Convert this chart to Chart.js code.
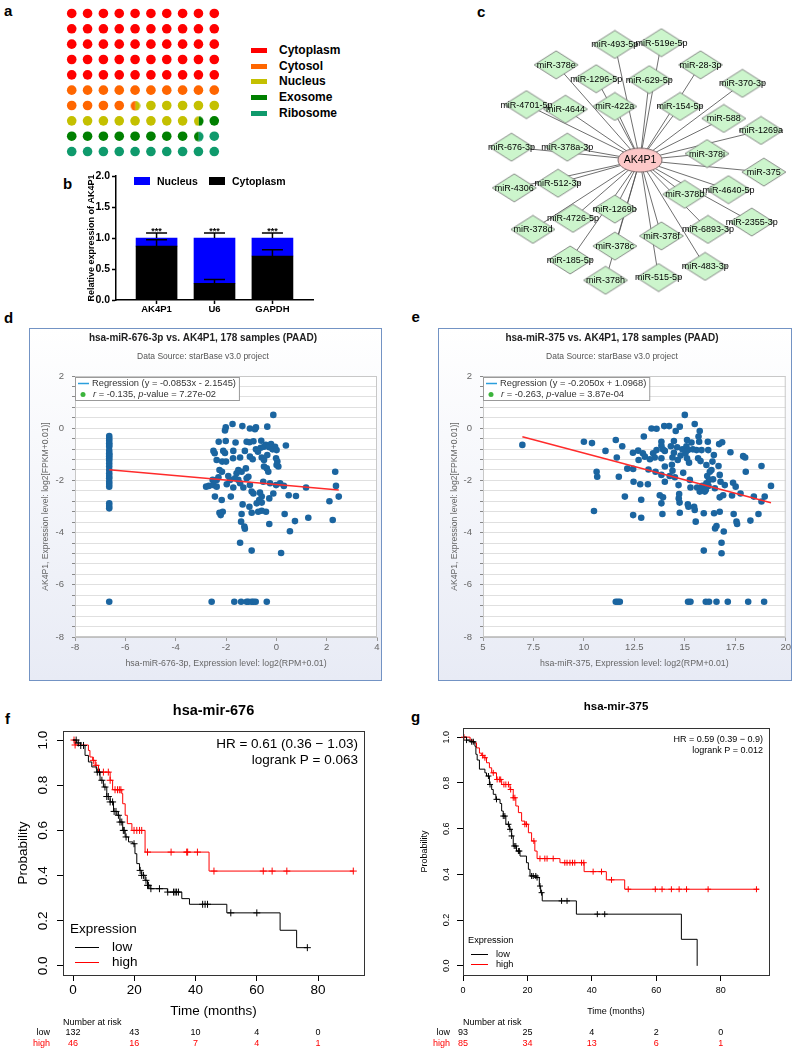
<!DOCTYPE html>
<html>
<head>
<meta charset="utf-8">
<title>AK4P1 figure</title>
<script src="https://cdn.jsdelivr.net/npm/chart.js@4.4.1/dist/chart.umd.min.js"></script>
<style>
  html, body { margin: 0; padding: 0; }
  body { position: relative; width: 800px; height: 1051px; overflow: hidden; background: #fff;
         font-family: "Liberation Sans", Arial, sans-serif; }
  canvas { position: absolute; }
  .txt { position: absolute; white-space: nowrap; line-height: 1; }
  .panel-box { position: absolute; box-sizing: border-box; border: 1.5px solid #7393c4;
               background: linear-gradient(#ffffff, #e8ebf5); }
</style>
</head>
<body>
<script>
const FONT = '"Liberation Sans", Arial, sans-serif';
Chart.defaults.font.family = FONT;
Chart.defaults.color = '#000';
Chart.defaults.animation = false;
Chart.defaults.responsive = false;
Chart.defaults.events = [];
Chart.defaults.plugins.legend.display = false;
Chart.defaults.plugins.tooltip.enabled = false;

// ---------------- data ----------------

// a: subcellular localisation, percent of 100 dots
const locNames = ['Cytoplasm', 'Cytosol', 'Nucleus', 'Exosome', 'Ribosome'];
const locValues = [50, 14.5, 14, 10, 11.5];
const locColors = ['#ff0000', '#ff6600', '#c4c000', '#008000', '#0f9a6c'];

// b: nuclear / cytoplasmic fractionation
const fracGenes = ['AK4P1', 'U6', 'GAPDH'];
const fracCyto = [0.87, 0.27, 0.71];
const fracNuc = [0.13, 0.73, 0.29];
const fracCytoErr = [0.10, 0.06, 0.10];
const fracTotalErr = [0.08, 0.08, 0.08];
const fracLegend = ['Nucleus', 'Cytoplasm'];
const fracColors = { Nucleus: '#0000ff', Cytoplasm: '#000000' };

// c: ceRNA network (layout units, hub at origin)
const hubName = 'AK4P1';
const netNames = ['miR-493-5p', 'miR-519e-5p', 'miR-378e', 'miR-28-3p', 'miR-1296-5p', 'miR-629-5p',
  'miR-370-3p', 'miR-4701-5p', 'miR-4644', 'miR-422a', 'miR-154-5p', 'miR-588', 'miR-1269a',
  'miR-676-3p', 'miR-378a-3p', 'miR-378i', 'miR-375', 'miR-4306', 'miR-512-3p', 'miR-378b',
  'miR-4640-5p', 'miR-1269b', 'miR-4726-5p', 'miR-378d', 'miR-2355-3p', 'miR-6893-3p', 'miR-378f',
  'miR-378c', 'miR-185-5p', 'miR-483-3p', 'miR-515-5p', 'miR-378h'];
const netX = [-27, 23, -90, 65, -47, 10, 110, -122, -80, -27, 43, 90, 130, -138, -78, 72, 133,
  -135, -88, 48, 95, -27, -72, -115, 120, 73, 23, -27, -75, 70, 20, -37];
const netY = [125, 127, 103, 103, 88, 87, 83, 60, 55, 58, 58, 45, 32, 14, 14, 7, -13, -30, -25,
  -37, -32, -53, -63, -75, -67, -75, -82, -93, -108, -115, -127, -130];

// d: hsa-miR-676-3p vs AK4P1 (x: log2 RPM, y: log2 FPKM)
const d676Points = [
  [-6.64,-0.30],[-6.64,-0.39],[-6.64,-0.48],[-6.64,-0.58],[-6.64,-0.64],[-6.64,-0.71],[-6.64,-0.86],
  [-6.64,-0.96],[-6.64,-1.02],[-6.64,-1.07],[-6.64,-1.15],[-6.64,-1.24],[-6.64,-1.35],[-6.64,-1.47],
  [-6.64,-1.60],[-6.64,-1.73],[-6.64,-1.83],[-6.64,-1.92],[-6.64,-2.05],[-6.64,-2.14],[-6.64,-2.24],
  [-6.64,-2.88],[-6.64,-2.98],[-6.64,-3.07],[-6.64,-6.65],
  [-0.12,0.51],[-1.74,0.16],[-1.35,0.08],[-2.01,0.03],[-2.04,-0.09],[-1.05,-0.01],[-0.85,-0.04],
  [-0.81,0.03],[-0.36,0.06],[-2.29,-0.52],[-2.01,-0.49],[-1.62,-0.55],[-1.18,-0.52],[-1.07,-0.54],
  [-0.91,-0.50],[-0.60,-0.48],[-0.21,-0.61],[-0.42,-0.64],[-0.05,-0.71],[0.38,-0.66],[-2.50,-0.87],
  [-2.45,-0.96],[-2.11,-0.87],[-2.04,-0.95],[-1.71,-0.87],[-1.25,-0.87],[-0.81,-0.81],[-0.73,-0.90],
  [-0.62,-0.75],[-0.49,-0.71],[-0.28,-0.73],[-0.15,-0.81],[0.01,-0.84],[-2.37,-1.22],[-2.15,-1.28],
  [-2.00,-1.28],[-1.72,-1.15],[-1.44,-1.12],[-1.05,-1.09],[-0.94,-1.19],[-0.58,-1.12],[-0.49,-1.22],
  [-0.36,-1.03],[-0.01,-1.15],[0.04,-1.28],[0.08,-1.47],[0.01,-1.41],[-2.26,-1.60],[-2.16,-1.67],
  [-1.51,-1.60],[-1.38,-1.67],[-1.21,-1.54],[-0.49,-1.47],[-0.38,-1.54],[-0.32,-1.67],[-1.58,-1.73],
  [-1.91,-1.83],[-1.51,-1.98],[-1.18,-1.92],[-1.11,-1.86],[-2.53,-1.98],[-2.37,-1.98],[-2.30,-1.88],
  [-1.97,-2.15],[-1.84,-1.98],[-1.64,-1.92],[-1.44,-2.11],[-1.05,-2.18],[-0.52,-2.05],[-0.25,-2.11],
  [-0.01,-2.18],[0.15,-2.11],[0.30,-2.21],[-2.79,-2.24],[-2.68,-2.21],[-2.50,-2.18],[-2.37,-2.24],
  [-1.71,-2.27],[-1.31,-2.27],[-0.98,-2.43],[-0.91,-2.50],[-0.65,-2.47],[-0.58,-2.62],[-0.12,-2.50],
  [-0.28,-2.69],[-0.68,-2.75],[-0.78,-2.88],[-0.58,-2.85],[0.49,-2.57],[0.78,-2.60],[1.18,-2.27],
  [-2.44,-2.62],[-2.17,-2.75],[-1.81,-2.62],[-1.34,-2.92],[-1.07,-3.01],[-0.98,-3.24],[-2.26,-3.24],
  [-2.13,-3.20],[-2.21,-3.33],[-1.38,-3.29],[-0.72,-3.20],[-0.58,-3.16],[-0.41,-3.20],[0.33,-3.29],
  [-0.28,-3.67],[0.74,-3.56],[1.27,-3.43],[0.54,-3.95],[2.11,-2.80],[2.48,-2.62],[2.37,-2.21],
  [2.34,-1.67],[2.24,-3.52],[-1.40,-3.58],[-1.27,-3.77],[-1.25,-3.85],[-1.44,-4.39],[-0.98,-4.69],
  [0.19,-4.78],
  [-2.57,-6.65],[-1.67,-6.65],[-1.40,-6.65],[-1.18,-6.65],[-1.11,-6.65],[-0.98,-6.65],[-0.91,-6.65],
  [-0.82,-6.65],[-0.38,-6.65]
];
const d676Fit = { slope: -0.0853, intercept: -2.1545 };
const d676Stats = { r: '-0.135', p: '7.27e-02' };

// e: hsa-miR-375 vs AK4P1
const e375Points = [
  [6.95,-0.64],[10.0,-0.52],[10.40,-0.57],[10.50,-3.17],[10.63,-1.67],[10.66,-1.86],[11.07,-0.87],
  [11.58,-0.45],[11.63,-1.12],[11.73,-1.86],[11.90,-0.69],[12.03,-2.62],[12.15,-1.55],[12.43,-0.94],
  [12.44,-1.56],[12.46,-2.05],[12.44,-3.33],[12.69,-0.86],[12.71,-1.22],[12.79,-2.15],[12.84,-2.74],
  [12.84,-3.43],[12.92,-0.96],[12.97,-0.32],[13.02,-1.09],[13.17,-2.15],[13.20,-1.58],[13.27,-1.19],
  [13.35,-0.01],[13.43,-0.96],[13.51,-1.12],[13.55,-1.67],[13.60,-0.02],[13.60,-0.84],[13.76,-2.57],
  [13.84,-0.52],[13.84,-0.67],[13.84,-1.15],[13.84,-1.79],[13.84,-2.88],[13.89,-3.29],[13.91,-0.81],
  [13.92,-2.65],[13.98,0.08],[14.01,-1.47],[14.01,-0.87],[14.01,-2.05],[14.22,0.08],[14.25,-1.83],
  [14.31,-0.69],[14.36,-1.40],[14.39,-1.63],[14.39,-1.12],[14.46,-0.49],[14.46,-0.94],[14.51,-1.88],
  [14.55,-0.11],[14.62,-0.73],[14.65,-1.22],[14.69,-2.18],[14.70,-2.69],[14.72,-2.52],[14.74,-2.85],
  [14.75,0.06],[14.75,-3.24],[14.79,-1.05],[14.88,-0.81],[14.92,-1.71],[15.00,0.51],[15.03,-0.96],
  [15.08,-0.69],[15.11,-0.45],[15.11,-1.15],[15.15,-2.92],[15.16,-0.84],[15.18,-3.01],[15.21,-1.32],
  [15.25,-1.98],[15.28,-2.27],[15.33,-0.55],[15.40,-0.81],[15.46,-3.01],[15.49,-3.13],[15.49,0.16],
  [15.54,-3.58],[15.58,-0.84],[15.61,-2.27],[15.66,-1.15],[15.68,-0.32],[15.71,-0.52],[15.74,-0.11],
  [15.74,-2.43],[15.78,-1.26],[15.83,-0.84],[15.87,-2.21],[15.91,-2.37],[15.94,-3.26],[15.94,-4.69],
  [15.99,-2.43],[16.04,-2.37],[16.07,-1.41],[16.07,-2.11],[16.11,-1.83],[16.14,-0.52],[16.16,-0.84],
  [16.17,-2.21],[16.20,-1.98],[16.24,-1.67],[16.32,-1.60],[16.37,-1.28],[16.40,-1.96],[16.44,-1.03],
  [16.45,-3.26],[16.49,-2.30],[16.50,-3.84],[16.57,-3.75],[16.67,-1.45],[16.70,-0.61],[16.73,-1.79],
  [16.73,-3.20],[16.73,-2.65],[16.77,-2.05],[16.82,-4.39],[16.82,-4.79],[16.85,-0.54],[16.90,-2.57],
  [16.93,-3.96],[16.98,-2.18],[17.26,-0.92],[17.34,-2.58],[17.39,-2.09],[17.42,-3.29],[17.52,-2.24],
  [17.56,-3.58],[17.59,-3.67],[17.76,-2.50],[17.89,-1.07],[17.99,-1.12],[18.02,-1.67],[18.25,-3.54],
  [18.42,-2.62],[18.65,-3.29],[18.80,-1.45],[18.80,-2.81],[18.96,-2.62],[19.27,-2.21],
  [11.58,-6.65],[11.68,-6.65],[11.78,-6.65],[15.16,-6.65],[15.28,-6.65],[16.04,-6.65],[16.20,-6.65],
  [16.57,-6.65],[17.13,-6.65],[18.14,-6.65],[18.93,-6.65]
];
const e375Fit = { slope: -0.2050, intercept: 1.0968 };
const e375Stats = { r: '-0.263', p: '3.87e-04' };

// f, g: Kaplan-Meier (months, survival probability), censor times, number at risk
const riskTimes = [0, 20, 40, 60, 80];

const f676LowT = [0, 1.2, 2.5, 3.9, 5.0, 6.1, 7.7, 8.8, 9.9, 11.0, 12.1, 13.2, 14.3, 15.3, 16.2, 17.0,
  18.1, 19.5, 20.2, 20.8, 21.7, 22.4, 23.5, 24.3, 25.1, 30.8, 35.5, 38.0, 50.2, 67.6, 73.0, 76.5];
const f676LowS = [1, 0.987, 0.976, 0.932, 0.903, 0.881, 0.858, 0.822, 0.792, 0.750, 0.726, 0.684, 0.667,
  0.637, 0.600, 0.571, 0.549, 0.541, 0.497, 0.453, 0.423, 0.401, 0.379, 0.357, 0.342, 0.327, 0.298,
  0.273, 0.235, 0.158, 0.081, 0.081];
const f676LowCens = [1.0, 1.7, 2.5, 3.4, 7.9, 8.6, 9.4, 10.4, 11.0, 11.5, 12.1, 12.9, 13.4, 14.0, 14.8,
  15.3, 15.9, 16.4, 16.7, 17.3, 19.9, 21.9, 22.4, 23.0, 23.8, 24.3, 24.6, 25.4, 28.2, 30.9, 32.8, 33.3,
  33.8, 34.4, 42.3, 43.1, 43.9, 51.5, 60.0, 76.5];
const f676HighT = [0, 0.65, 5.0, 5.5, 6.4, 7.2, 8.3, 12.1, 12.9, 15.9, 16.2, 17.0, 17.7, 19.2, 23.5, 44.4, 91.5];
const f676HighS = [1, 0.978, 0.954, 0.925, 0.910, 0.888, 0.858, 0.822, 0.780, 0.763, 0.718, 0.667, 0.630,
  0.600, 0.504, 0.420, 0.420];
const f676HighCens = [0.3, 0.65, 6.6, 7.5, 9.9, 11.5, 12.1, 13.7, 14.5, 15.1, 15.6, 19.9, 20.8, 21.7, 22.4,
  24.3, 32.0, 37.1, 37.4, 40.6, 46.0, 62.1, 65.0, 69.8, 91.5];
const f676RiskLow = [132, 43, 10, 4, 0];
const f676RiskHigh = [46, 16, 7, 4, 1];

const g375LowT = [0, 1.1, 2.2, 3.7, 4.0, 4.4, 5.1, 6.8, 7.3, 8.2, 8.9, 9.4, 10.2, 11.5, 12.0, 12.5, 13.3,
  14.4, 15.1, 15.6, 16.6, 17.7, 19.7, 20.3, 20.8, 22.8, 23.7, 24.1, 24.6, 35.2, 67.8, 72.7];
const g375LowS = [1, 0.987, 0.980, 0.960, 0.925, 0.900, 0.860, 0.844, 0.830, 0.793, 0.771, 0.750, 0.728,
  0.710, 0.677, 0.655, 0.619, 0.597, 0.568, 0.524, 0.502, 0.480, 0.451, 0.422, 0.393, 0.386, 0.349,
  0.320, 0.284, 0.226, 0.116, 0];
const g375LowCens = [1.1, 2.7, 3.2, 7.9, 8.4, 10.4, 12.5, 13.0, 14.1, 14.6, 15.1, 15.9, 16.4, 17.2, 17.5,
  21.3, 21.8, 22.6, 23.0, 23.9, 24.4, 30.6, 32.3, 41.7, 44.0];
const g375HighT = [0, 2.2, 3.2, 4.2, 5.1, 5.8, 6.5, 7.3, 8.2, 8.9, 10.4, 12.0, 14.6, 15.6, 16.4, 17.2, 18.2,
  19.2, 20.3, 21.3, 22.3, 23.0, 30.1, 37.6, 44.5, 50.2, 91.9];
const g375HighS = [1, 0.987, 0.975, 0.953, 0.930, 0.920, 0.910, 0.888, 0.866, 0.844, 0.815, 0.793, 0.771,
  0.735, 0.699, 0.670, 0.633, 0.619, 0.582, 0.546, 0.502, 0.469, 0.451, 0.412, 0.376, 0.335, 0.335];
const g375HighCens = [0.3, 6.1, 6.8, 9.4, 10.6, 11.3, 11.7, 12.7, 13.3, 14.1, 14.8, 15.6, 16.1, 19.2, 19.7,
  22.0, 23.9, 25.4, 26.1, 28.0, 31.6, 32.3, 33.2, 34.0, 34.7, 36.8, 37.5, 40.4, 43.0, 46.1, 51.3, 59.7,
  61.8, 64.7, 67.1, 69.4, 76.1, 91.1];
const g375RiskLow = [93, 25, 4, 2, 0];
const g375RiskHigh = [85, 34, 13, 6, 1];

// ---------------- helpers ----------------

function makeCanvas(left, top, w, h) {
  const c = document.createElement('canvas');
  c.width = w; c.height = h;
  c.style.left = left + 'px';
  c.style.top = top + 'px';
  document.body.appendChild(c);
  return c;
}

// text whose capitals are centred on cy
function txt(text, x, cy, size, opts = {}) {
  const d = document.createElement('div');
  d.className = 'txt';
  d.textContent = text;
  d.style.fontSize = size + 'px';
  d.style.top = (cy - size * 0.4885) + 'px';
  d.style.left = x + 'px';
  if (opts.bold) d.style.fontWeight = 'bold';
  if (opts.color) d.style.color = opts.color;
  document.body.appendChild(d);
  return d;
}

function swatch(x, y, w, h, color) {
  const d = document.createElement('div');
  d.style.cssText = `position:absolute;left:${x}px;top:${y}px;width:${w}px;height:${h}px;background:${color}`;
  document.body.appendChild(d);
}

function splitDot(left, right, r) {
  const c = document.createElement('canvas');
  c.width = c.height = 2 * r + 2;
  const g = c.getContext('2d');
  const m = r + 1;
  g.fillStyle = left;
  g.beginPath(); g.moveTo(m, m); g.arc(m, m, r, Math.PI / 2, Math.PI * 1.5); g.closePath(); g.fill();
  g.fillStyle = right;
  g.beginPath(); g.moveTo(m, m); g.arc(m, m, r, -Math.PI / 2, Math.PI / 2); g.closePath(); g.fill();
  return c;
}

function diamondImg(w, h, fill, stroke) {
  const c = document.createElement('canvas');
  c.width = w + 2; c.height = h + 2;
  const g = c.getContext('2d');
  const cx = c.width / 2, cy = c.height / 2;
  g.beginPath();
  g.moveTo(cx, 1); g.lineTo(c.width - 1, cy); g.lineTo(cx, c.height - 1); g.lineTo(1, cy);
  g.closePath();
  g.fillStyle = fill; g.fill();
  g.strokeStyle = stroke; g.lineWidth = 0.8; g.stroke();
  return c;
}

function ellipseImg(w, h, fill, stroke) {
  const c = document.createElement('canvas');
  c.width = w + 2; c.height = h + 2;
  const g = c.getContext('2d');
  g.beginPath();
  g.ellipse(c.width / 2, c.height / 2, w / 2, h / 2, 0, 0, Math.PI * 2);
  g.fillStyle = fill; g.fill();
  g.strokeStyle = stroke; g.lineWidth = 1; g.stroke();
  return c;
}

function stepAt(ts, ss, t) {
  let s = ss[0];
  for (let i = 0; i < ts.length; i++) if (ts[i] <= t) s = ss[i];
  return s;
}

// ---------------- panel letters ----------------
txt('a', 4, 10, 15, { bold: true });
txt('b', 63, 183, 15, { bold: true });
txt('c', 477, 11.5, 15, { bold: true });
txt('d', 4, 317, 15, { bold: true });
txt('e', 411.5, 316, 15, { bold: true });
txt('f', 5, 718.5, 15, { bold: true });
txt('g', 411, 716.3, 15, { bold: true });

// ---------------- a: dot matrix ----------------
const locCum = [0];
locValues.forEach(v => locCum.push(locCum[locCum.length - 1] + v));
const fullDots = locNames.map(() => []);
const splitDots = [];
const splitStyles = [];
for (let k = 0; k < 100; k++) {
  const pt = { x: k % 10, y: Math.floor(k / 10) };
  const parts = [];
  locValues.forEach((v, c) => {
    const ov = Math.min(k + 1, locCum[c + 1]) - Math.max(k, locCum[c]);
    if (ov > 1e-9) parts.push(c);
  });
  if (parts.length === 1) fullDots[parts[0]].push(pt);
  else {
    splitDots.push(pt);
    splitStyles.push(splitDot(locColors[parts[0]], locColors[parts[1]], 4.8));
  }
}

new Chart(makeCanvas(58, 0, 170, 165), {
  type: 'scatter',
  data: {
    datasets: [
      ...locNames.map((n, i) => ({
        label: n, data: fullDots[i], backgroundColor: locColors[i],
        pointRadius: 4.8, borderWidth: 0, clip: false
      })),
      { label: 'split', data: splitDots, pointStyle: splitStyles, pointRadius: 4.8, clip: false }
    ]
  },
  options: {
    scales: {
      x: { display: false, min: -0.5, max: 9.5 },
      y: { display: false, min: -0.5, max: 9.5, reverse: true }
    }
  }
});

const locLegendY = [50, 66, 81, 97, 113];
locNames.forEach((n, i) => {
  swatch(251, locLegendY[i] - 2.5, 16, 5, locColors[i]);
  txt(n, 279, locLegendY[i], 12, { bold: true });
});

// ---------------- b: fractionation bars ----------------
new Chart(makeCanvas(60, 165, 260, 155), {
  type: 'bar',
  data: {
    datasets: [
      { label: 'Cytoplasm', data: fracGenes.map((g, i) => ({ x: i, y: fracCyto[i] })),
        backgroundColor: fracColors.Cytoplasm, barThickness: 41, stack: 's' },
      { label: 'Nucleus', data: fracGenes.map((g, i) => ({ x: i, y: fracNuc[i] })),
        backgroundColor: fracColors.Nucleus, barThickness: 41, stack: 's' }
    ]
  },
  options: {
    layout: { padding: { top: 11, right: 7, left: 0, bottom: 0 } },
    scales: {
      x: {
        type: 'linear', stacked: true, min: -0.7, max: 2.7, offset: false,
        afterBuildTicks: s => { s.ticks = fracGenes.map((g, i) => ({ value: i })); },
        ticks: { callback: v => fracGenes[v], font: { weight: 'bold', size: 9.5 }, color: '#000', padding: 0 },
        grid: { display: true, offset: false, drawOnChartArea: false, tickLength: 4, tickColor: '#000', tickWidth: 1.5 },
        border: { color: '#000', width: 1.5 },
        afterFit: s => { s.height = 20; }
      },
      y: {
        stacked: true, min: 0, max: 2,
        ticks: { stepSize: 0.5, callback: v => v.toFixed(1), font: { weight: 'bold', size: 10.5 }, color: '#000', padding: 2 },
        grid: { drawOnChartArea: false, tickLength: 4, tickColor: '#000', tickWidth: 1.5 },
        border: { color: '#000', width: 1.5 },
        title: { display: true, text: 'Relative expression of AK4P1', font: { weight: 'bold', size: 9 },
                 color: '#000', padding: { top: 26, bottom: 0 } },
        afterFit: s => { s.width = 56; }
      }
    }
  },
  plugins: [{
    id: 'errorBars',
    afterDatasetsDraw(chart) {
      const { ctx, scales: { x, y } } = chart;
      ctx.save();
      ctx.strokeStyle = '#000';
      ctx.lineWidth = 1.5;
      const bar = (px, from, to) => {
        const y0 = y.getPixelForValue(from), y1 = y.getPixelForValue(to);
        ctx.beginPath();
        ctx.moveTo(px, y0); ctx.lineTo(px, y1);
        ctx.moveTo(px - 10.5, y1); ctx.lineTo(px + 10.5, y1);
        ctx.stroke();
      };
      ctx.font = `bold 9px ${FONT}`;
      ctx.textAlign = 'center';
      ctx.fillStyle = '#000';
      fracGenes.forEach((g, i) => {
        const px = x.getPixelForValue(i);
        const total = fracCyto[i] + fracNuc[i];
        bar(px, fracCyto[i], fracCyto[i] + fracCytoErr[i]);
        bar(px, total, total + fracTotalErr[i]);
        ctx.fillText('***', px, y.getPixelForValue(total + fracTotalErr[i]) + 1);
      });
      ctx.restore();
    }
  }]
});

let fracLegX = 134;
fracLegend.forEach((n, i) => {
  swatch(fracLegX, 177, 16, 8, fracColors[n]);
  txt(n, fracLegX + 23, 181, 10.5, { bold: true });
  fracLegX += 75;
});

// ---------------- c: network ----------------
const diamond = diamondImg(44, 28, '#ccf5cc', '#6e6e6e');
const hubShape = ellipseImg(44, 24, '#fcc8c8', '#7a6a6a');

new Chart(makeCanvas(480, 15, 320, 292), {
  type: 'scatter',
  data: {
    datasets: [
      { label: hubName, data: [{ x: 0, y: 0 }], pointStyle: hubShape, pointRadius: 10, order: 1, clip: false },
      { label: 'miRNA', data: netNames.map((n, i) => ({ x: netX[i], y: netY[i] })),
        pointStyle: diamond, pointRadius: 10, order: 2, clip: false },
      ...netNames.map((n, i) => ({
        label: 'edge ' + n, data: [{ x: 0, y: 0 }, { x: netX[i], y: netY[i] }],
        showLine: true, pointRadius: 0, borderColor: '#4a4a4a', borderWidth: 0.8, order: 3, clip: false
      }))
    ]
  },
  options: {
    scales: {
      x: { display: false, min: -160, max: 160 },
      y: { display: false, min: -147, max: 145 }
    }
  },
  plugins: [{
    id: 'nodeLabels',
    afterDatasetsDraw(chart) {
      const { ctx, scales: { x, y } } = chart;
      ctx.save();
      ctx.fillStyle = '#000';
      ctx.textAlign = 'center';
      ctx.textBaseline = 'middle';
      ctx.font = `9px ${FONT}`;
      netNames.forEach((n, i) => ctx.fillText(n, x.getPixelForValue(netX[i]), y.getPixelForValue(netY[i]) + 0.5));
      ctx.font = `10.5px ${FONT}`;
      ctx.fillText(hubName, x.getPixelForValue(0), y.getPixelForValue(0) + 0.5);
      ctx.restore();
    }
  }]
});

// ---------------- d, e: correlation scatter ----------------
function scatterPanel(cfg) {
  const box = document.createElement('div');
  box.className = 'panel-box';
  box.style.cssText = `left:${cfg.left}px;top:328px;width:${cfg.width}px;height:353px`;
  document.body.appendChild(box);

  const xs = cfg.points.map(p => p[0]);
  const x0 = Math.min(...xs), x1 = Math.max(...xs);
  const fit = v => cfg.fit.slope * v + cfg.fit.intercept;
  const sign = cfg.fit.intercept < 0 ? '-' : '+';
  const regText = `Regression (y = ${cfg.fit.slope.toFixed(4)}x ${sign} ${Math.abs(cfg.fit.intercept).toFixed(4)})`;

  new Chart(makeCanvas(cfg.left, 328, cfg.width, 353), {
    type: 'scatter',
    data: {
      datasets: [
        { label: 'Regression', data: [{ x: x0, y: fit(x0) }, { x: x1, y: fit(x1) }], showLine: true,
          borderColor: '#ff2b2b', borderWidth: 1.5, pointRadius: 0, order: 1 },
        { label: 'samples', data: cfg.points.map(p => ({ x: p[0], y: p[1] })),
          backgroundColor: '#1b65a0', borderWidth: 0, pointRadius: 3.3, order: 2 }
      ]
    },
    options: {
      layout: { padding: { top: 0, left: 0, bottom: 0, right: cfg.padRight } },
      plugins: {
        title: { display: true, text: cfg.title, color: '#222', font: { size: 10, weight: 'bold' },
                 padding: { top: 4.5, bottom: 2 } },
        subtitle: { display: true, text: 'Data Source: starBase v3.0 project', color: '#555',
                    font: { size: 8.5 }, padding: { top: 5, bottom: 14.3 } }
      },
      scales: {
        x: {
          type: 'linear', min: cfg.xMin, max: cfg.xMax,
          ticks: { stepSize: cfg.xStep, color: '#666', font: { size: 9.5 }, padding: 1, maxRotation: 0, autoSkip: false },
          grid: { display: true, drawOnChartArea: false, tickLength: 4, tickColor: '#999' },
          border: { color: '#c0c0c0' },
          title: { display: true, text: cfg.xTitle, color: '#666', font: { size: 8.8 }, padding: { top: 0, bottom: 12.3 } },
          afterFit: s => { s.height = 44; }
        },
        y: {
          min: -8, max: 2,
          ticks: { stepSize: 0.4, autoSkip: false, color: '#666', font: { size: 9.5 }, padding: 8,
                   callback: v => (Math.abs(v % 2) < 1e-6 ? String(Math.round(v)) : '') },
          grid: { color: '#e0e0e0', tickLength: 3, tickColor: '#888' },
          border: { color: '#c0c0c0' },
          title: { display: true, text: 'AK4P1, Expression level: log2[FPKM+0.01)]', color: '#666',
                   font: { size: 8.6 }, padding: { top: 11.5, bottom: 0 } },
          afterFit: s => { s.width = cfg.yAxisW; }
        }
      }
    },
    plugins: [{
      id: 'plotFrame',
      beforeDraw(chart) {
        const { ctx, chartArea: a } = chart;
        ctx.save();
        ctx.fillStyle = '#fff';
        ctx.fillRect(a.left, a.top, a.right - a.left, a.bottom - a.top);
        ctx.restore();
      },
      afterDraw(chart) {
        const { ctx, chartArea: a } = chart;
        ctx.save();
        ctx.strokeStyle = '#c8c8c8';
        ctx.lineWidth = 1;
        ctx.strokeRect(a.left + 0.5, a.top + 0.5, a.right - a.left - 1, a.bottom - a.top - 1);
        // legend box
        const fs = 9.3;
        ctx.font = `${fs}px ${FONT}`;
        const w1 = ctx.measureText(regText).width;
        const bx = a.left, by = a.top + 1, bw = w1 + 20, bh = 23;
        ctx.fillStyle = '#fff';
        ctx.fillRect(bx, by, bw, bh);
        ctx.strokeStyle = '#9a9a9a';
        ctx.strokeRect(bx + 0.5, by + 0.5, bw, bh);
        ctx.strokeStyle = '#2b9fdc';
        ctx.lineWidth = 1.5;
        ctx.beginPath(); ctx.moveTo(bx + 3, by + 6.5); ctx.lineTo(bx + 14, by + 6.5); ctx.stroke();
        ctx.fillStyle = '#333';
        ctx.textBaseline = 'middle';
        ctx.fillText(regText, bx + 17, by + 6.5);
        ctx.fillStyle = '#3cb43c';
        ctx.beginPath(); ctx.arc(bx + 8, by + 17.5, 2.5, 0, Math.PI * 2); ctx.fill();
        ctx.fillStyle = '#333';
        let tx = bx + 18;
        [['r', true], [` = ${cfg.stats.r}, `, false], ['p', true], [`-value = ${cfg.stats.p}`, false]].forEach(([s, it]) => {
          ctx.font = `${it ? 'italic ' : ''}${fs}px ${FONT}`;
          ctx.fillText(s, tx, by + 17.5);
          tx += ctx.measureText(s).width;
        });
        ctx.restore();
      }
    }]
  });
}

scatterPanel({
  left: 29, width: 353, padRight: 5, yAxisW: 46,
  points: d676Points, fit: d676Fit, stats: d676Stats,
  title: 'hsa-miR-676-3p vs. AK4P1, 178 samples (PAAD)',
  xTitle: 'hsa-miR-676-3p, Expression level: log2(RPM+0.01)',
  xMin: -8, xMax: 4, xStep: 2
});
scatterPanel({
  left: 438, width: 354, padRight: 6, yAxisW: 45,
  points: e375Points, fit: e375Fit, stats: e375Stats,
  title: 'hsa-miR-375 vs. AK4P1, 178 samples (PAAD)',
  xTitle: 'hsa-miR-375, Expression level: log2(RPM+0.01)',
  xMin: 5, xMax: 20, xStep: 2.5
});

// ---------------- f, g: Kaplan-Meier ----------------
function kmPanel(km) {
  const datasets = [];
  km.groups.forEach(g => {
    datasets.push({ label: g.name, data: g.t.map((t, i) => ({ x: t, y: g.s[i] })), showLine: true,
      stepped: 'before', borderColor: g.color, borderWidth: 1, pointRadius: 0, clip: false });
    datasets.push({ label: g.name + ' censored', data: g.cens.map(t => ({ x: t, y: stepAt(g.t, g.s, t) })),
      showLine: false, pointStyle: 'cross', pointRadius: km.crossR, borderColor: g.color, borderWidth: 1, clip: false });
  });

  new Chart(makeCanvas(km.left, 690, 400, 361), {
    type: 'scatter',
    data: { datasets },
    options: {
      layout: { padding: { top: km.padTop, right: km.padRight, left: 0, bottom: 0 } },
      scales: {
        x: {
          type: 'linear', min: km.xMin, max: km.xMax,
          ticks: { stepSize: 20, includeBounds: false, font: { size: km.fs }, color: '#000', padding: km.tickPad, maxRotation: 0 },
          grid: { display: true, drawOnChartArea: false, tickLength: 6, tickColor: '#000' },
          border: { display: false },
          title: { display: true, text: 'Time (months)', font: { size: km.fs }, color: '#000',
                   padding: { top: 0, bottom: km.xTitlePad } },
          afterFit: s => { s.height = 76; }
        },
        y: {
          min: -0.04, max: 1.04,
          ticks: { stepSize: 0.2, includeBounds: false, display: false },
          grid: { display: true, drawOnChartArea: false, tickLength: 6, tickColor: '#000' },
          border: { display: false },
          title: { display: true, text: 'Probability', font: { size: km.fs }, color: '#000',
                   padding: { top: km.yTitlePad, bottom: 0 } },
          afterFit: s => { s.width = 63; }
        }
      }
    },
    plugins: [{
      id: 'kmDecor',
      afterDraw(chart) {
        const { ctx, chartArea: a, scales: { x, y } } = chart;
        ctx.save();
        ctx.strokeStyle = '#333';
        ctx.lineWidth = 1;
        ctx.strokeRect(a.left + 0.5, a.top + 0.5, a.right - a.left, a.bottom - a.top);
        ctx.fillStyle = '#000';
        ctx.textBaseline = 'middle';
        ctx.textAlign = 'center';
        ctx.font = `${km.fs}px ${FONT}`;
        y.ticks.forEach(t => {
          ctx.save();
          ctx.translate(a.left - km.yLabOff, y.getPixelForValue(t.value));
          ctx.rotate(-Math.PI / 2);
          ctx.fillText(t.value.toFixed(1), 0, 0);
          ctx.restore();
        });
        ctx.font = `bold ${km.titleFs}px ${FONT}`;
        ctx.fillText(km.title, (a.left + a.right) / 2, a.top - km.titleOff);
        ctx.font = `${km.hrFs}px ${FONT}`;
        ctx.textAlign = 'right';
        km.hr.forEach((s, i) => ctx.fillText(s, a.right - 6, a.top + km.hrY[i]));
        // legend
        ctx.textAlign = 'left';
        ctx.font = `${km.legFs}px ${FONT}`;
        ctx.fillText('Expression', a.left + km.leg.x, a.bottom - km.leg.head);
        km.groups.forEach((g, i) => {
          const ly = a.bottom - km.leg.rows[i];
          ctx.strokeStyle = g.color;
          ctx.beginPath();
          ctx.moveTo(a.left + km.leg.line[0], ly + 0.5);
          ctx.lineTo(a.left + km.leg.line[1], ly + 0.5);
          ctx.stroke();
          ctx.fillStyle = '#000';
          ctx.fillText(g.name, a.left + km.leg.text, ly);
        });
        // number at risk
        ctx.font = `${km.riskFs}px ${FONT}`;
        ctx.fillStyle = '#000';
        ctx.fillText('Number at risk', a.left, a.bottom + 48);
        km.groups.forEach((g, i) => {
          const ry = a.bottom + 58 + i * 11;
          ctx.fillStyle = g.color;
          ctx.textAlign = 'right';
          ctx.fillText(g.name, a.left - 13, ry);
          ctx.textAlign = 'center';
          riskTimes.forEach((t, j) => ctx.fillText(String(g.risk[j]), x.getPixelForValue(t), ry));
        });
        ctx.restore();
      }
    }]
  });
}

kmPanel({
  left: 0, padTop: 41, padRight: 36, xMin: -3.3, xMax: 95,
  fs: 13.5, tickPad: 1, xTitlePad: 31.9, yTitlePad: 14.9, yLabOff: 20, crossR: 3.5,
  title: 'hsa-mir-676', titleFs: 14.5, titleOff: 20,
  hr: ['HR = 0.61 (0.36 \u2212 1.03)', 'logrank P = 0.063'], hrFs: 13.5, hrY: [13, 29],
  legFs: 13.5, leg: { x: 7, head: 46, rows: [28, 13], line: [12, 36], text: 49 },
  riskFs: 9,
  groups: [
    { name: 'low', color: '#000000', t: f676LowT, s: f676LowS, cens: f676LowCens, risk: f676RiskLow },
    { name: 'high', color: '#ff0000', t: f676HighT, s: f676HighS, cens: f676HighCens, risk: f676RiskHigh }
  ]
});

kmPanel({
  left: 400, padTop: 38, padRight: 31, xMin: 0, xMax: 95,
  fs: 9, tickPad: 4.6, xTitlePad: 33.6, yTitlePad: 19.6, yLabOff: 16, crossR: 3,
  title: 'hsa-mir-375', titleFs: 11.5, titleOff: 21,
  hr: ['HR = 0.59 (0.39 \u2212 0.9)', 'logrank P = 0.012'], hrFs: 9, hrY: [12, 23],
  legFs: 9.2, leg: { x: 5, head: 35, rows: [21, 11], line: [8, 25], text: 33 },
  riskFs: 9,
  groups: [
    { name: 'low', color: '#000000', t: g375LowT, s: g375LowS, cens: g375LowCens, risk: g375RiskLow },
    { name: 'high', color: '#ff0000', t: g375HighT, s: g375HighS, cens: g375HighCens, risk: g375RiskHigh }
  ]
});
</script>
</body>
</html>
